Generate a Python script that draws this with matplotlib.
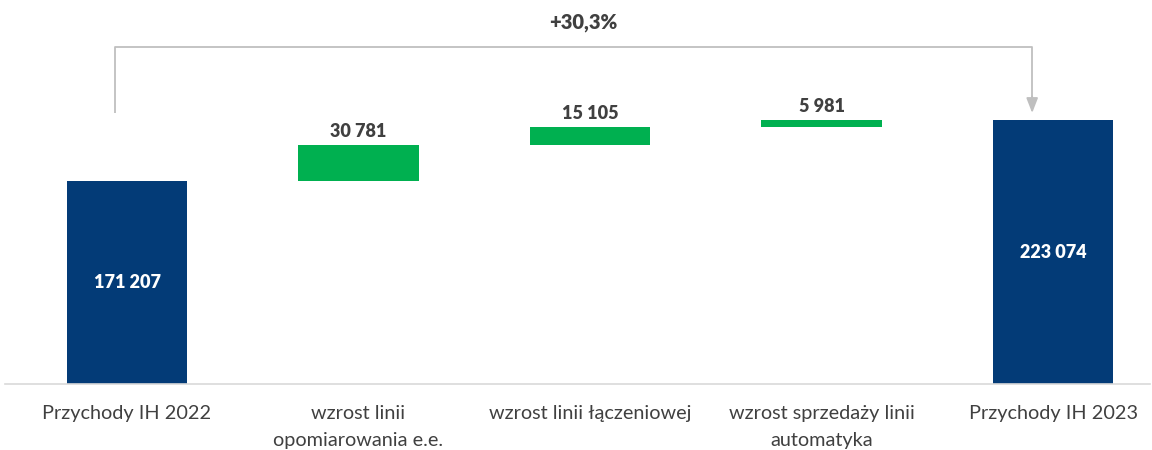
import numpy as np
import matplotlib
matplotlib.use("Agg")
import matplotlib.pyplot as plt

plt.rcParams['font.family'] = ['Lato', 'DejaVu Sans']

# data
categories = ["Przychody IH 2022", "wzrost linii\nopomiarowania e.e.",
              "wzrost linii łączeniowej", "wzrost sprzedaży linii\nautomatyka",
              "Przychody IH 2023"]
values = [171207, 30781, 15105, 5981, 223074]
is_total = [True, False, False, False, True]
change_label = "+30,3%"

navy = "#033B77"
green = "#00B050"
text_col = "#404040"
gray = "#BFBFBF"

# waterfall bottoms
bottoms = []
running = 0
for v, tot in zip(values, is_total):
    if tot:
        bottoms.append(0)
        running = v
    else:
        bottoms.append(running)
        running += v

fig = plt.figure(figsize=(11.52, 4.5), dpi=100)
ax = fig.add_axes([5 / 1152, 66 / 450, 1145 / 1152, 384 / 450])

x = np.arange(len(values))
colors = [navy if t else green for t in is_total]
ax.bar(x, values, bottom=bottoms, width=0.52, color=colors)

def fmt(v):
    return f"{v:,}".replace(",", " ")

for xi, v, b, tot in zip(x, values, bottoms, is_total):
    if tot:
        ax.text(xi, b + v / 2, fmt(v), ha='center', va='center', color='white',
                fontsize=13, fontweight='heavy')
    else:
        ax.text(xi, b + v + 4500, fmt(v), ha='center', va='bottom', color=text_col,
                fontsize=13, fontweight='heavy')

ax.set_xlim(-0.527, 4.419)
ax.set_ylim(0, 324600)

# bracket with arrow
y_top = 284900
ax.plot([-0.052, -0.052, 3.91, 3.91], [229100, y_top, y_top, 242000],
        color=gray, lw=1.3, solid_capstyle='butt')
ax.annotate("", xy=(3.91, 229100), xytext=(3.91, 243000),
            arrowprops=dict(arrowstyle="-|>,head_width=0.35,head_length=0.9",
                            color=gray, lw=1.3, shrinkA=0, shrinkB=0))
ax.text(1.97, 305500, change_label, ha='center', va='center', color=text_col,
        fontsize=14.5, fontweight='heavy')

ax.set_xticks(x)
ax.set_xticklabels(categories, fontsize=14.3, color=text_col, linespacing=1.75)
ax.tick_params(axis='x', length=0, pad=15)
ax.set_yticks([])
for s in ['top', 'right', 'left']:
    ax.spines[s].set_visible(False)
ax.spines['bottom'].set_color("#D9D9D9")
ax.spines['bottom'].set_linewidth(1.2)

fig.savefig("out.png", dpi=100)
